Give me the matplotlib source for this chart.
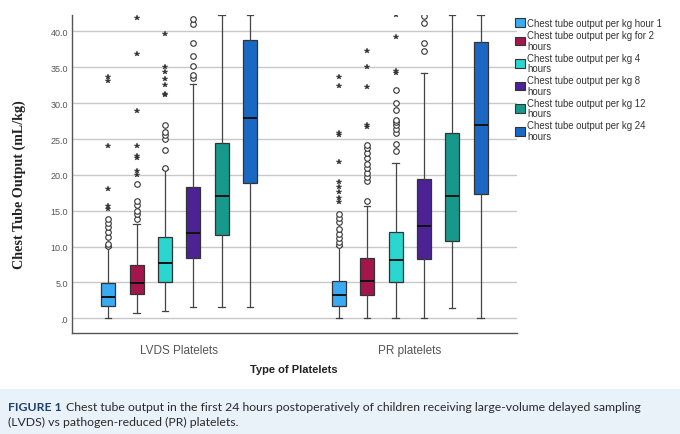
import matplotlib
matplotlib.use("Agg")
import matplotlib.pyplot as plt
from matplotlib.patches import Rectangle, Patch

groups = ["LVDS Platelets", "PR platelets"]
series = ["Chest tube output per kg hour 1",
          "Chest tube output per kg for 2\nhours",
          "Chest tube output per kg 4\nhours",
          "Chest tube output per kg 8\nhours",
          "Chest tube output per kg 12\nhours",
          "Chest tube output per kg 24\nhours"]
colors = ["#3AAAF2", "#A3164C", "#2AD6CF", "#4B2395", "#16998B", "#1A68C4"]

# box stats per group: [whislo, q1, med, q3, whishi]
lvds_stats = [[0.0, 1.72, 2.93, 4.88, 9.9],
              [0.7, 3.4, 4.9, 7.5, 13.1],
              [1.07, 5.1, 7.7, 11.4, 20.8],
              [1.63, 8.4, 11.9, 18.3, 32.7],
              [1.63, 11.6, 17.0, 24.4, 42.3],
              [1.63, 18.9, 28.0, 38.8, 42.3]]
pr_stats = [[0.0, 1.77, 3.3, 5.16, 10.1],
            [0.0, 3.26, 5.16, 8.4, 15.7],
            [0.0, 5.0, 8.1, 12.1, 21.7],
            [0.0, 8.3, 12.9, 19.4, 34.2],
            [1.44, 10.8, 17.1, 25.9, 42.3],
            [0.0, 17.4, 27.0, 38.5, 42.3]]

lvds_circles = [[10.1, 10.4, 11.4, 12.0, 12.7, 13.3, 13.8],
                [13.9, 14.6, 15.0, 15.8, 16.3, 18.8],
                [21.0, 23.5, 25.0, 25.6, 26.0, 27.0],
                [33.5, 34.0, 35.2, 36.6, 38.4, 41.0, 41.7],
                [], []]
lvds_stars = [[15.2, 15.6, 18.0, 24.0, 33.1, 33.6],
              [20.0, 20.6, 22.3, 22.7, 24.0, 28.9, 36.9, 41.9],
              [31.1, 31.3, 32.5, 33.4, 34.4, 35.0, 39.7],
              [], [], []]
pr_circles = [[10.2, 10.7, 11.2, 11.8, 12.4, 13.5, 14.0, 14.6],
              [16.4, 19.2, 19.7, 20.3, 20.9, 21.5, 22.4, 23.1, 23.7, 24.1],
              [23.4, 24.3, 25.9, 26.4, 27.0, 27.4, 27.6, 29.1, 30.0, 31.9],
              [37.3, 38.4, 41.2, 42.1],
              [], []]
pr_stars = [[16.2, 16.8, 17.6, 18.3, 19.0, 21.8, 25.6, 25.9, 32.4, 33.6],
            [26.7, 26.9, 32.3, 35.1, 37.3],
            [34.2, 34.5, 39.3, 42.3],
            [], [], []]

yticks = [0, 5, 10, 15, 20, 25, 30, 35, 40]
ytick_labels = [".0", "5.0", "10.0", "15.0", "20.0", "25.0", "30.0", "35.0", "40.0"]

fig = plt.figure(figsize=(6.8, 4.35), dpi=100)
W, H = 680, 435
ax = fig.add_axes([72 / W, 1 - 334 / H, (517 - 72) / W, (334 - 16) / H])

spacing = 0.1229
bw = 0.0607
offsets = [(i - 2.5) * spacing for i in range(6)]

all_stats = [lvds_stats, pr_stats]
all_circ = [lvds_circles, pr_circles]
all_star = [lvds_stars, pr_stars]

for g in range(2):
    for i in range(6):
        s = all_stats[g][i]
        pos = g + offsets[i]
        st = dict(whislo=s[0], q1=s[1], med=s[2], q3=s[3], whishi=s[4], fliers=[])
        ax.bxp([st], positions=[pos], widths=bw, patch_artist=True,
               showfliers=False,
               boxprops=dict(facecolor=colors[i], edgecolor="#333333", linewidth=0.9),
               medianprops=dict(color="#111111", linewidth=1.4),
               whiskerprops=dict(color="#444444", linewidth=0.9),
               capprops=dict(color="#444444", linewidth=0.9),
               capwidths=bw * 0.45)
        c = all_circ[g][i]
        if c:
            ax.plot([pos] * len(c), c, linestyle="none", marker="o", markersize=4.0,
                    markerfacecolor="white", markeredgecolor="#333333", markeredgewidth=0.8,
                    clip_on=True)
        st_ = all_star[g][i]
        if st_:
            ax.plot([pos] * len(st_), st_, linestyle="none", marker="*", markersize=4.2,
                    color="#333333", markeredgewidth=0.3, clip_on=True)

ax.set_xlim(-0.464, 1.465)
ax.set_ylim(-2.05, 42.3)
ax.set_yticks(yticks)
ax.set_yticklabels(ytick_labels)
ax.set_xticks([0, 1])
ax.set_xticklabels(groups)
ax.yaxis.grid(True, color="#c8c8c8", linewidth=1.0)
ax.set_axisbelow(True)
for sp in ["top", "right"]:
    ax.spines[sp].set_visible(False)
for sp in ["left", "bottom"]:
    ax.spines[sp].set_color("#555555")
    ax.spines[sp].set_linewidth(1.0)
ax.tick_params(axis="y", length=0, labelsize=6.5, labelcolor="#555555", pad=3)
ax.tick_params(axis="x", length=0, labelsize=8.5, labelcolor="#555555", pad=8)
for t in ax.get_yticklabels() + ax.get_xticklabels():
    t.set_fontfamily("Liberation Sans")

ax.set_ylabel("Chest Tube Output (mL/kg)", fontfamily="Liberation Serif",
              fontweight="bold", fontsize=10.2, color="#222222")
ax.yaxis.set_label_coords(-46 / 445, (334 - 185) / 318)
fig.text(294 / W, 1 - 370 / H, "Type of Platelets", ha="center", va="center",
         fontfamily="Liberation Sans", fontweight="bold", fontsize=8, color="#222222")

handles = [Patch(facecolor=colors[i], edgecolor="#333333", linewidth=0.8) for i in range(6)]
leg = fig.legend(handles, series, loc="upper left", bbox_to_anchor=(515 / W, 1 - 19 / H),
                 frameon=False, prop=dict(family="Liberation Sans", size=6.9),
                 handlelength=1.05, handleheight=1.05, handletextpad=0.25,
                 labelspacing=0.22, borderaxespad=0, borderpad=0)
for t in leg.get_texts():
    t.set_color("#333333")
    t.set_linespacing(1.05)

# caption
fig.patches.append(Rectangle((0, 0), 1, 1 - 390 / H, transform=fig.transFigure,
                             facecolor="#E9F2F9", edgecolor="none", zorder=0))
cap_fam = ["Lato", "DejaVu Sans"]
cap_size = 8.0
line1 = "Chest tube output in the first 24 hours postoperatively of children receiving large-volume delayed sampling"
line2 = "(LVDS) vs pathogen-reduced (PR) platelets."
t1 = fig.text(8 / W, 1 - 408 / H, "FIGURE 1", fontfamily=cap_fam, fontweight="bold",
              fontsize=cap_size, color="#1E3F6F", va="center", ha="left")
t2 = fig.text(0, 1 - 408 / H, line1, fontfamily=cap_fam, fontsize=cap_size,
              color="#2a2a2a", va="center", ha="left")
t3 = fig.text(8 / W, 1 - 422 / H, line2, fontfamily=cap_fam, fontsize=cap_size,
              color="#2a2a2a", va="center", ha="left")
fig.canvas.draw()
r = fig.canvas.get_renderer()
w_total = t1.get_window_extent(r).width + 4 + t2.get_window_extent(r).width
scale = (643 - 8) / w_total
for t in (t1, t2, t3):
    t.set_fontsize(cap_size * scale)
fig.canvas.draw()
bb = t1.get_window_extent(r)
t2.set_x((bb.x1 + 4) / W)

fig.savefig("out.png", dpi=100)
